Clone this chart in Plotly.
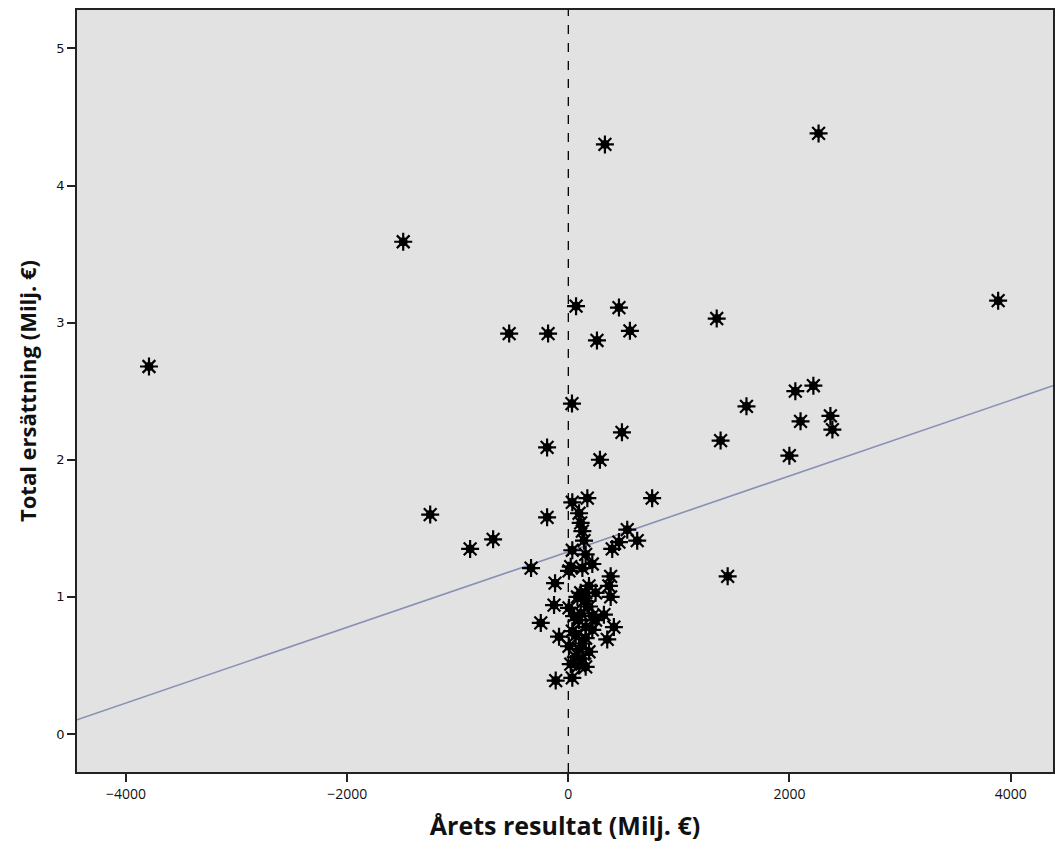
import plotly.graph_objects as go

# Årets resultat (Milj. €) per bolag
resultat = [
    -3792, -1493, 331, 2263, 3887, -535, -183, 70, 458, 259, 557, 1342,
    33, -192, 485, 286, 1611, 1377, 2053, 2216, 2100, 2370, 2388, 1999,
    1441, -1249, -888, -680, -337, -192, 758, 533, 623, 458, 397,
    36, 172, 97, 112, 127, 142, 36, 157, 22,
    -120, 6, 127, 217, 383, 367, 187, 157, 383, 247,
    -129, 6, 112, 217, 322, 412, -249, -84, 36, 157, 97, 187,
    127, 352, 6, 67, 157, 22, -114, 36,
    97, 187, 127, 67, 157, 217, 97, 247, 52, 82, 112, 142,
]
# Total ersättning (Milj. €) per bolag
ersattning = [
    2.68, 3.59, 4.30, 4.38, 3.16, 2.92, 2.92, 3.12, 3.11, 2.87, 2.94, 3.03,
    2.41, 2.09, 2.20, 2.00, 2.39, 2.14, 2.50, 2.54, 2.28, 2.32, 2.22, 2.03,
    1.15, 1.60, 1.35, 1.42, 1.21, 1.58, 1.72, 1.49, 1.41, 1.40, 1.35,
    1.69, 1.72, 1.61, 1.54, 1.48, 1.41, 1.34, 1.31, 1.22,
    1.10, 1.19, 1.21, 1.24, 1.15, 1.08, 1.08, 1.03, 1.00, 1.03,
    0.94, 0.92, 0.88, 0.86, 0.87, 0.78, 0.81, 0.71, 0.75, 0.78, 0.83, 0.93,
    0.66, 0.69, 0.64, 0.56, 0.49, 0.51, 0.39, 0.41,
    0.62, 0.60, 0.55, 0.72, 0.70, 0.76, 0.50, 0.83, 0.86, 1.00, 1.03, 0.97,
]

# Linjär anpassning: ersättning = intercept + lutning * resultat
intercept = 1.33
lutning = 0.000276

x_range = [-4443, 4383]
y_range = [-0.277, 5.28]
x_ticks = [-4000, -2000, 0, 2000, 4000]
y_ticks = [0, 1, 2, 3, 4, 5]

fig = go.Figure()

# Anpassad linje
fig.add_trace(go.Scatter(
    x=x_range,
    y=[intercept + lutning * v for v in x_range],
    mode="lines",
    line=dict(color="#8890b4", width=1.6),
    hoverinfo="skip",
    showlegend=False,
))

# Åttauddig stjärna: asterisk med fylld kärna
fig.add_trace(go.Scatter(
    x=resultat, y=ersattning, mode="markers",
    marker=dict(symbol="asterisk-open", size=15, color="black",
                line=dict(width=2.2, color="black")),
    showlegend=False,
))
fig.add_trace(go.Scatter(
    x=resultat, y=ersattning, mode="markers",
    marker=dict(symbol="circle", size=9, color="black", line=dict(width=0)),
    hoverinfo="skip",
    showlegend=False,
))

# Referenslinje vid noll
fig.add_shape(type="line", xref="x", yref="paper", x0=0, x1=0, y0=0, y1=1,
              line=dict(color="black", width=1.3, dash="dash"), layer="below")

axis_common = dict(
    showgrid=False, zeroline=False, showline=True, linecolor="#222222",
    linewidth=1.5, mirror=True, ticks="outside", ticklen=8, tickwidth=1.5,
    tickcolor="#222222",
)

fig.update_layout(
    width=1055, height=853,
    margin=dict(l=77, r=0, t=10, b=81),
    paper_bgcolor="white",
    plot_bgcolor="#e2e2e2",
    xaxis=dict(
        range=x_range, tickvals=x_ticks,
        tickfont=dict(family="Open Sans", size=14, color="#111111"),
        title=dict(text="Årets resultat (Milj. €)", standoff=16,
                   font=dict(family="Open Sans", size=25,
                             color="#111111", weight="bold")),
        **axis_common,
    ),
    yaxis=dict(
        range=y_range, tickvals=y_ticks,
        tickfont=dict(family="DejaVu Sans", size=13, color="#111111"),
        title=dict(text="Total ersättning (Milj. €)", standoff=14,
                   font=dict(family="Open Sans", size=22, color="#111111", weight="bold")),
        **axis_common,
    ),
)

fig.write_html("out.html")
